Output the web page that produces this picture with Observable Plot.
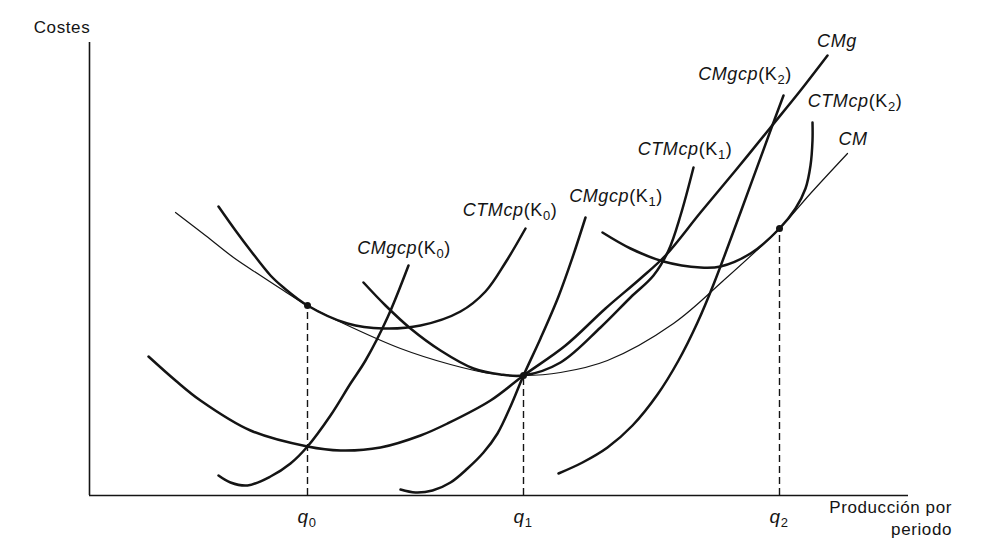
<!DOCTYPE html>
<html><head><meta charset="utf-8">
<script src="https://cdn.jsdelivr.net/npm/d3@7"></script>
<script src="https://cdn.jsdelivr.net/npm/@observablehq/plot@0.6"></script>
<style>
html,body{margin:0;padding:0;background:#fff;}
svg text{font-family:"Liberation Sans",Arial,sans-serif;}
</style></head><body><div id="chart"></div>
<script>
// Values (quantity on x, cost on y, in the figure's own units)
const CM        = [[86,283],[116,260],[144,238],[171,220],[194,205],[218,190],[254,172],[311,147],[361,131],[401,122],[434,120],[471,123],[518,135],[584,172],[634,215],[690,267],[721,302],[758,342]];
const CMg       = [[59,139],[86,115],[111,95],[161,65],[218,49],[251,45],[291,48],[331,60],[358,72],[401,95],[434,120],[476,150],[516,187],[551,217],[576,240],[611,283],[646,325],[681,368],[711,405],[738,440]];
const CTMcpK0   = [[129,289],[146,265],[161,245],[181,220],[194,208],[218,190],[258,172],[294,167],[331,170],[371,184],[396,204],[416,233],[436,267]];
const CMgcpK0   = [[129,20],[141,13],[158,10],[181,19],[201,32],[218,49],[241,80],[261,112],[276,135],[298,178],[319,230]];
const CTMcpK1   = [[274,213],[296,190],[321,167],[351,145],[384,127],[411,121],[434,120],[471,133],[511,168],[541,198],[564,220],[579,245],[591,280],[604,328]];
const CMgcpK1   = [[311,6],[326,3],[343,5],[361,13],[378,27],[394,43],[408,62],[421,89],[434,120],[451,157],[469,199],[483,238],[496,278]];
const CTMcpK2   = [[513,263],[541,247],[574,234],[611,228],[631,229],[661,242],[690,267],[706,287],[716,307],[721,330],[723,355],[723,373]];
const CMgcpK2   = [[469,22],[493,33],[518,48],[543,70],[568,101],[589,135],[608,173],[624,211],[651,283],[681,365],[694,400]];

const qNames  = ["0","1","2"];
const qValues = [218, 434, 690];
const qCosts  = [190, 120, 267];

const yTitle = "Costes";
const xTitle = ["Producción por", "periodo"];

const curves = [
  {id:"CM",       it:"CM",    k:null, pts:CM,      thin:true},
  {id:"CMg",      it:"CMg",   k:null, pts:CMg},
  {id:"CTMcpK0",  it:"CTMcp", k:"0",  pts:CTMcpK0},
  {id:"CMgcpK0",  it:"CMgcp", k:"0",  pts:CMgcpK0},
  {id:"CTMcpK1",  it:"CTMcp", k:"1",  pts:CTMcpK1},
  {id:"CMgcpK1",  it:"CMgcp", k:"1",  pts:CMgcpK1},
  {id:"CTMcpK2",  it:"CTMcp", k:"2",  pts:CTMcpK2},
  {id:"CMgcpK2",  it:"CMgcp", k:"2",  pts:CMgcpK2}
];

// label placement relative to each curve's end (pixels)
const labelOffsets = {
  CM:[6,-8], CMg:[10,-8], CTMcpK0:[-15,-12], CMgcpK0:[-4,-11],
  CTMcpK1:[-8,-12], CMgcpK1:[31,-15], CTMcpK2:[43,-15], CMgcpK2:[-38,-15]
};

const rows = curves.flatMap(c => c.pts.map(([x,y]) => ({id:c.id, x, y, thin:!!c.thin})));
const eq = qValues.map((x,i) => ({x, y:qCosts[i], n:qNames[i]}));

const ink = "#141414";
const chart = Plot.plot({
  width:1003, height:552,
  marginLeft:89, marginRight:95, marginTop:40, marginBottom:57,
  x:{domain:[0,819], axis:null},
  y:{domain:[0,455], axis:null},
  marks:[
    Plot.ruleY([0], {x1:0, x2:819, stroke:ink, strokeWidth:1.6}),
    Plot.ruleX([0], {y1:0, y2:453, stroke:ink, strokeWidth:1.6}),
    Plot.ruleX(eq, {x:"x", y1:0, y2:"y", stroke:ink, strokeWidth:1.4, strokeDasharray:"7,4"}),
    Plot.line(rows.filter(d=>d.thin), {x:"x", y:"y", z:"id", curve:"catmull-rom", stroke:ink, strokeWidth:1.2}),
    Plot.line(rows.filter(d=>!d.thin), {x:"x", y:"y", z:"id", curve:"catmull-rom", stroke:ink, strokeWidth:2.5}),
    Plot.dot(eq, {x:"x", y:"y", r:3.5, fill:ink, stroke:null})
  ]
});
document.getElementById("chart").appendChild(chart);

const sx = chart.scale("x").apply, sy = chart.scale("y").apply;
const svg = d3.select(chart);
const g = svg.append("g").attr("fill", ink).attr("font-size", 18).attr("letter-spacing", 0.6);

function curveLabel(x, y, it, k) {
  const t = g.append("text").attr("x", x).attr("y", y).attr("text-anchor", "middle");
  t.append("tspan").attr("font-style", "italic").text(it);
  if (k != null) {
    t.append("tspan").text("(K");
    t.append("tspan").attr("font-size", 13).attr("dy", 4).text(k);
    t.append("tspan").attr("dy", -4).text(")");
  }
}
curves.forEach(c => {
  const [ex, ey] = c.pts[c.pts.length-1];
  const [dx, dy] = labelOffsets[c.id];
  curveLabel(sx(ex)+dx, sy(ey)+dy, c.it, c.k);
});

eq.forEach(d => {
  const t = g.append("text").attr("x", sx(d.x)).attr("y", sy(0)+28).attr("text-anchor", "middle");
  t.append("tspan").attr("font-style", "italic").attr("font-size", 19).text("q");
  t.append("tspan").attr("font-size", 13).attr("dy", 4).text(d.n);
});

g.append("text").attr("x", sx(0)-27).attr("y", sy(453)-9).attr("font-size", 17).text(yTitle);
g.append("text").attr("x", sx(819)+44).attr("y", sy(0)+18).attr("text-anchor","end").attr("font-size", 17).text(xTitle[0]);
g.append("text").attr("x", sx(819)+44).attr("y", sy(0)+40).attr("text-anchor","end").attr("font-size", 17).text(xTitle[1]);
</script></body></html>
